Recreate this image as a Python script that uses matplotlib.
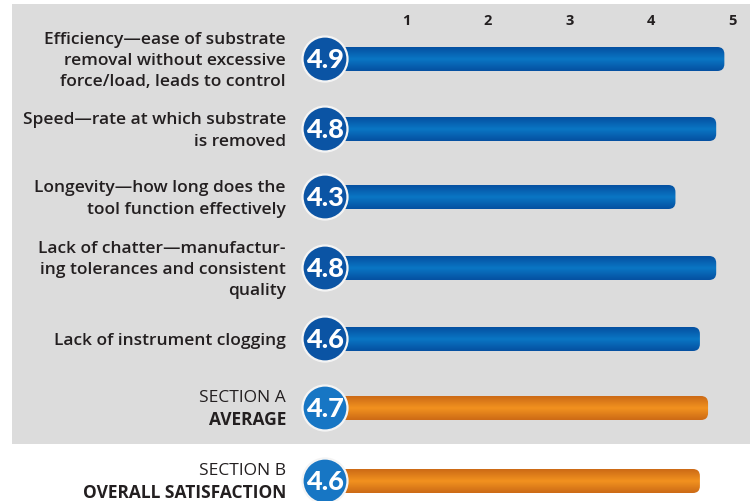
import numpy as np
import matplotlib.pyplot as plt
from matplotlib.patches import FancyBboxPatch, Ellipse, Rectangle
from matplotlib.colors import LinearSegmentedColormap

plt.rcParams['font.family'] = ['Open Sans', 'DejaVu Sans']

# ratings per attribute (scale 1-5)
labels = [
    'Efficiency\u2014ease of substrate\nremoval without excessive\nforce/load, leads to control',
    'Speed\u2014rate at which substrate\nis removed',
    'Longevity\u2014how long does the\ntool function effectively',
    'Lack of chatter\u2014manufactur-\ning tolerances and consistent\nquality',
    'Lack of instrument clogging',
]
scores = [4.9, 4.8, 4.3, 4.8, 4.6]

summary_top = ['SECTION A', 'SECTION B']
summary_bottom = ['AVERAGE', 'OVERALL SATISFACTION']
summary_scores = [4.7, 4.6]

ticks = [1, 2, 3, 4, 5]

W, H = 750, 501
x0_px = 325.0      # pixel position of value 0
unit_px = 81.5     # pixels per rating point
row_y = [59, 129, 197, 268, 339, 408, 481]
bar_h = 24
circ_d = 45

fig = plt.figure(figsize=(W / 100, H / 100), dpi=100)
fig.patch.set_facecolor('white')
ax = fig.add_axes([0, 0, 1, 1])
ax.set_xlim(-x0_px / unit_px, (W - x0_px) / unit_px)
ax.set_ylim(H, 0)
ax.axis('off')

# grey panel behind the five attributes and section A
ax.add_patch(Rectangle(((12 - x0_px) / unit_px, 4), (W - 12) / unit_px, 440,
                       facecolor='#dcdcdc', edgecolor='none', zorder=0))

blue_cmap = LinearSegmentedColormap.from_list('b', ['#0550a1', '#0a76c4', '#0550a1'])
orange_cmap = LinearSegmentedColormap.from_list('o', ['#cc6a16', '#f2921f', '#cc6a16'])
grad = np.linspace(0, 1, 64).reshape(-1, 1)


def draw_bar(y, value, cmap, circle_color):
    r = 7
    box = FancyBboxPatch((0, y - bar_h / 2), value, bar_h,
                         boxstyle=f'round,pad=0,rounding_size={r / unit_px}',
                         mutation_aspect=unit_px,
                         facecolor='none', edgecolor='none', zorder=2)
    ax.add_patch(box)
    im = ax.imshow(grad, cmap=cmap, aspect='auto', interpolation='bilinear',
                   extent=(0, value, y + bar_h / 2, y - bar_h / 2), zorder=2)
    im.set_clip_path(box)
    ax.add_patch(Ellipse((0, y), circ_d / unit_px, circ_d, facecolor=circle_color,
                         edgecolor='#f4f4f4', linewidth=1.6, zorder=3))
    ax.text(0, y + 1, f'{value:.1f}', ha='center', va='center', color='white',
            fontsize=19.5, fontweight='black', family=['Lato', 'DejaVu Sans'], zorder=4)


lx = (286 - x0_px) / unit_px
for y, lab, v in zip(row_y, labels, scores):
    draw_bar(y, v, blue_cmap, '#0b54a4')
    ax.text(lx, y + 2, lab, ha='right', va='center', fontsize=12.5, color='#231f20',
            fontweight='semibold', linespacing=1.45)

for y, top, bottom, v in zip(row_y[5:], summary_top, summary_bottom, summary_scores):
    draw_bar(y, v, orange_cmap, '#1776c4')
    ax.text(lx, y - 10, top, ha='right', va='center', fontsize=12.5,
            color='#231f20', fontweight='normal')
    ax.text(lx, y + 12, bottom, ha='right', va='center', fontsize=12.5,
            color='#231f20', fontweight='bold')

for t in ticks:
    ax.text(t, 21, str(t), ha='center', va='center', fontsize=10.5,
            fontweight='bold', color='#231f20')

fig.savefig('out.png', dpi=100, facecolor='white')
